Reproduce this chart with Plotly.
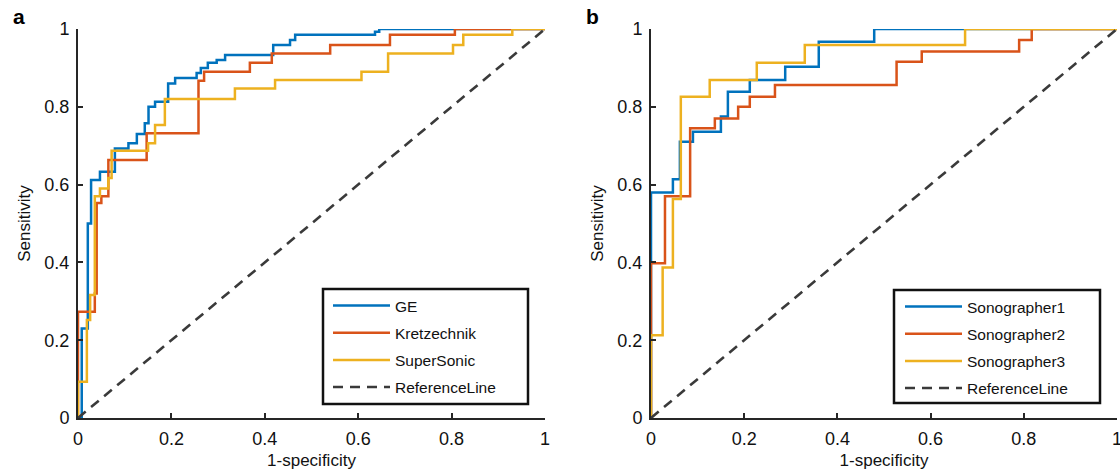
import plotly.graph_objects as go

# ---------- Data (ROC step corners: FPR, TPR) ----------
ge_fpr = [0, 0.008, 0.021, 0.028, 0.047, 0.079, 0.108, 0.126, 0.143, 0.151, 0.165, 0.193, 0.208, 0.254, 0.263, 0.278, 0.297, 0.315, 0.418, 0.454, 0.465, 0.636, 0.645, 1.0]
ge_tpr = [0, 0.23, 0.50, 0.612, 0.633, 0.693, 0.706, 0.73, 0.758, 0.80, 0.813, 0.86, 0.874, 0.887, 0.90, 0.913, 0.92, 0.933, 0.959, 0.972, 0.985, 0.993, 1.0, 1.0]

kr_fpr = [0, 0, 0.036, 0.040, 0.050, 0.065, 0.147, 0.258, 0.270, 0.368, 0.415, 0.540, 0.668, 0.807, 1.0]
kr_tpr = [0, 0.273, 0.32, 0.553, 0.57, 0.663, 0.732, 0.867, 0.89, 0.913, 0.937, 0.959, 0.985, 1.0, 1.0]

ss_fpr = [0, 0, 0.019, 0.026, 0.036, 0.047, 0.065, 0.072, 0.150, 0.165, 0.186, 0.336, 0.422, 0.607, 0.664, 0.803, 0.825, 0.930, 1.0]
ss_tpr = [0, 0.093, 0.252, 0.316, 0.57, 0.59, 0.617, 0.687, 0.706, 0.753, 0.82, 0.847, 0.869, 0.89, 0.937, 0.959, 0.985, 1.0, 1.0]

s1_fpr = [0, 0, 0.047, 0.062, 0.090, 0.150, 0.165, 0.212, 0.288, 0.360, 0.479, 1.0]
s1_tpr = [0, 0.58, 0.614, 0.71, 0.736, 0.775, 0.839, 0.869, 0.903, 0.967, 1.0, 1.0]

s2_fpr = [0, 0, 0.030, 0.084, 0.137, 0.187, 0.212, 0.266, 0.527, 0.581, 0.790, 0.817, 1.0]
s2_tpr = [0, 0.398, 0.57, 0.745, 0.77, 0.80, 0.826, 0.856, 0.916, 0.942, 0.972, 1.0, 1.0]

s3_fpr = [0, 0, 0.025, 0.047, 0.064, 0.126, 0.227, 0.330, 0.674, 1.0]
s3_tpr = [0, 0.213, 0.387, 0.563, 0.826, 0.869, 0.913, 0.959, 1.0, 1.0]

ref_x = [0, 1]
ref_y = [0, 1]

names_a = ["GE", "Kretzechnik", "SuperSonic", "ReferenceLine"]
names_b = ["Sonographer1", "Sonographer2", "Sonographer3", "ReferenceLine"]
tick_vals = [0, 0.2, 0.4, 0.6, 0.8, 1]
tick_text = ["0", "0.2", "0.4", "0.6", "0.8", "1"]

# ---------- Styles ----------
C_BLUE = "#0072BD"
C_RED = "#D95319"
C_YEL = "#EDB120"
C_REF = "#3a3a3a"
AX = "#262626"
TXT = "#111111"
FONT = "Liberation Sans, Arial, Helvetica, sans-serif"
LW = 2.5

fig = go.Figure()

def add_curve(x, y, name, color, xa, ya, leg, grp):
    fig.add_trace(go.Scatter(
        x=x, y=y, name=name, mode="lines", line=dict(color=color, width=LW, shape="hv"),
        xaxis=xa, yaxis=ya, legend=leg, legendgroup=grp))

add_curve(ge_fpr, ge_tpr, names_a[0], C_BLUE, "x", "y", "legend", "a1")
add_curve(kr_fpr, kr_tpr, names_a[1], C_RED, "x", "y", "legend", "a2")
add_curve(ss_fpr, ss_tpr, names_a[2], C_YEL, "x", "y", "legend", "a3")
fig.add_trace(go.Scatter(x=ref_x, y=ref_y, name=names_a[3], mode="lines",
                         line=dict(color=C_REF, width=2.6, dash="10px,7px"),
                         xaxis="x", yaxis="y", legend="legend", legendgroup="a4"))

add_curve(s1_fpr, s1_tpr, names_b[0], C_BLUE, "x2", "y2", "legend2", "b1")
add_curve(s2_fpr, s2_tpr, names_b[1], C_RED, "x2", "y2", "legend2", "b2")
add_curve(s3_fpr, s3_tpr, names_b[2], C_YEL, "x2", "y2", "legend2", "b3")
fig.add_trace(go.Scatter(x=ref_x, y=ref_y, name=names_b[3], mode="lines",
                         line=dict(color=C_REF, width=2.6, dash="10px,7px"),
                         xaxis="x2", yaxis="y2", legend="legend2", legendgroup="b4"))

L, R, T, B = 78, 3, 29, 56
W, H = 1120, 474
pw = W - L - R
ph = H - T - B

def xfrac(px):
    return (px - L) / pw

def yfrac(py):
    return (H - B - py) / ph

axis_common = dict(
    range=[0, 1], showline=True, linewidth=2, linecolor=AX, mirror=False,
    ticks="inside", ticklen=5, tickwidth=1.6, tickcolor=AX,
    tickvals=tick_vals, ticktext=tick_text,
    showgrid=False, zeroline=False, automargin=False,
    tickfont=dict(family=FONT, size=18, color=TXT),
    ticklabelstandoff=3, ticklabeloverflow="allow",
)

xa = dict(axis_common, title=dict(text="1-specificity", font=dict(family=FONT, size=17, color=TXT), standoff=7))
ya = dict(axis_common, title=dict(text="Sensitivity", font=dict(family=FONT, size=17, color=TXT), standoff=9))

legend_common = dict(
    bgcolor="rgba(0,0,0,0)", borderwidth=0,
    font=dict(family=FONT, size=15.5, color=TXT),
    xanchor="left", yanchor="top", tracegroupgap=4,
    traceorder="grouped", itemwidth=57,
)

# legend frames (box around each legend)
box_a = (323, 289, 528, 404)
box_b = (894, 290, 1100, 403)
shapes = []
for bx in (box_a, box_b):
    shapes.append(dict(type="rect", xref="paper", yref="paper",
                       x0=xfrac(bx[0]), x1=xfrac(bx[2]), y0=yfrac(bx[3]), y1=yfrac(bx[1]),
                       line=dict(color=TXT, width=2.5), fillcolor="white", layer="above"))

fig.update_layout(
    width=W, height=H,
    margin=dict(l=L, r=R, t=T, b=B, autoexpand=False),
    paper_bgcolor="white", plot_bgcolor="white",
    showlegend=True,
    xaxis=dict(xa, domain=[0, xfrac(545)], anchor="y"),
    yaxis=dict(ya, domain=[0, 1], anchor="x"),
    xaxis2=dict(xa, domain=[xfrac(651), 1], anchor="y2"),
    yaxis2=dict(ya, domain=[0, 1], anchor="x2"),
    legend=dict(legend_common, x=xfrac(328), y=yfrac(289)),
    legend2=dict(legend_common, x=xfrac(900), y=yfrac(290)),
    shapes=shapes,
    annotations=[
        dict(text="<b>a</b>", x=xfrac(19), y=yfrac(16), xref="paper", yref="paper",
             xanchor="center", yanchor="middle",
             showarrow=False, font=dict(family=FONT, size=21, color="black")),
        dict(text="<b>b</b>", x=xfrac(592), y=yfrac(16), xref="paper", yref="paper",
             xanchor="center", yanchor="middle",
             showarrow=False, font=dict(family=FONT, size=21, color="black")),
    ],
)

fig.write_html("out.html", config={"displayModeBar": False},
               post_script="document.body.style.margin='0';document.body.style.overflow='hidden';")
